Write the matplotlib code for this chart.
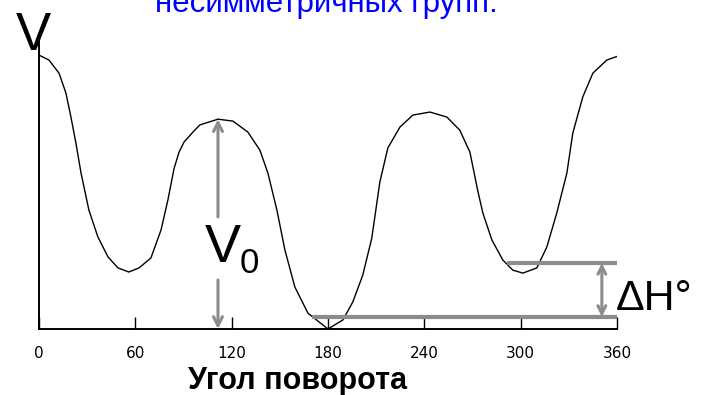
import matplotlib
matplotlib.use("Agg")
import matplotlib.pyplot as plt

# rotation angle (deg) and potential energy V (arb. units)
angle = [0, 6.2, 12.5, 16.8, 19.9, 23.0, 26.2, 31.1, 36.7, 43.0, 49.2, 56.0,
         62.3, 69.7, 76.0, 80.3, 84.1, 87.2, 90.3, 95.9, 100.2, 111.5, 120.8,
         130.1, 137.6, 142.6, 148.2, 153.2, 159.4, 167.5, 180.0, 189.3, 195.5,
         201.7, 207.3, 212.3, 217.3, 224.8, 232.9, 243.5, 254.0, 262.1, 268.4,
         273.3, 276.5, 282.1, 288.9, 295.1, 301.4, 310.1, 316.3, 322.5, 328.8,
         332.5, 338.7, 345.0, 353.7, 360.0]
energy = [10.0, 9.82, 9.34, 8.61, 7.74, 6.79, 5.69, 4.34, 3.36, 2.63, 2.23, 2.08,
          2.23, 2.59, 3.61, 4.71, 5.85, 6.45, 6.82, 7.19, 7.45, 7.66, 7.59,
          7.19, 6.53, 5.69, 4.34, 2.88, 1.53, 0.58, 0.0, 0.33, 0.99,
          1.97, 3.32, 5.36, 6.61, 7.37, 7.81, 7.92, 7.74, 7.26, 6.46,
          5.05, 4.23, 3.25, 2.52, 2.15, 2.04, 2.23, 2.99, 4.23, 5.69,
          7.15, 8.47, 9.34, 9.82, 9.95]

tick_pos = [0, 60, 120, 180, 240, 300, 360]
tick_labels = ["0", "60", "120", "180", "240", "300", "360"]

# levels used for the V0 / dH annotations
v0_angle = 111.5
v0_top = 7.66
dh_angle = 350.6
dh_low = 0.44
dh_high = 2.41
dh_low_start = 170.0
dh_high_start = 291.4

GRAY = "#8c8c8c"

fig = plt.figure(figsize=(7.01, 3.95), dpi=100)
ax = fig.add_axes([0.0556, 0.1671, 0.8245, 0.7392])

ax.plot(angle, energy, color="black", lw=1.0)

# horizontal reference levels
ax.plot([dh_low_start, 360], [dh_low, dh_low], color=GRAY, lw=3, solid_capstyle="butt")
ax.plot([dh_high_start, 360], [dh_high, dh_high], color=GRAY, lw=3, solid_capstyle="butt")

# dH arrow
ax.annotate("", xy=(dh_angle, dh_low), xytext=(dh_angle, dh_high),
            arrowprops=dict(arrowstyle="<->", color=GRAY, lw=2.2,
                            mutation_scale=14, shrinkA=0, shrinkB=0))

# V0 arrow, split around the label
ax.annotate("", xy=(v0_angle, v0_top), xytext=(v0_angle, 4.09),
            arrowprops=dict(arrowstyle="->", color=GRAY, lw=2.2,
                            mutation_scale=16, shrinkA=0, shrinkB=0))
ax.annotate("", xy=(v0_angle, 0), xytext=(v0_angle, 1.79),
            arrowprops=dict(arrowstyle="->", color=GRAY, lw=2.2,
                            mutation_scale=16, shrinkA=0, shrinkB=0))

ax.text(v0_angle - 8, 2.45, "V", fontsize=39, family="Liberation Sans",
        ha="left", va="baseline")
ax.text(125.0, 2.04, "0", fontsize=25, family="Liberation Sans",
        ha="left", va="baseline")
ax.text(359, 0.7, "ΔH°", fontsize=31, family="Liberation Sans",
        ha="left", va="baseline", clip_on=False)

ax.set_xlim(0, 360)
ax.set_ylim(0, 10.66)

for side in ["top", "right"]:
    ax.spines[side].set_visible(False)
for side in ["left", "bottom"]:
    ax.spines[side].set_linewidth(1.4)

ax.set_yticks([])
ax.set_xticks(tick_pos)
ax.set_xticklabels(tick_labels, family="Liberation Sans Narrow", fontsize=11)
ax.tick_params(axis="x", direction="in", length=9, width=1.0, pad=12)

fig.text(0.023, 0.873, "V", fontsize=38, family="Liberation Sans",
         ha="left", va="baseline")
fig.text(0.466, 0.970, "несимметричных групп.", fontsize=22.5,
         family="Liberation Sans", color="#0000ff", ha="center", va="baseline")
fig.text(0.424, 0.014, "Угол поворота", fontsize=22, fontweight="bold",
         family="Liberation Sans", ha="center", va="baseline")

fig.savefig("out.png", dpi=100)
